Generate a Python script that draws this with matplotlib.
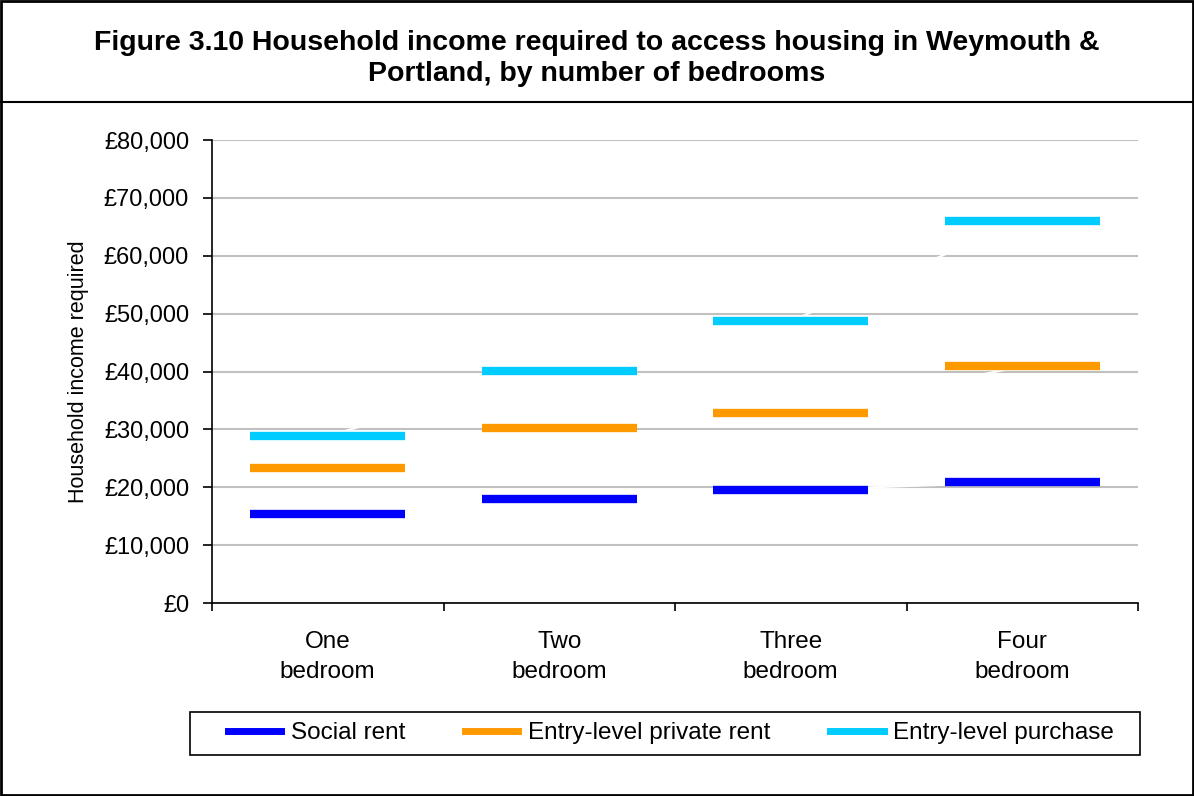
import matplotlib.pyplot as plt
from matplotlib.lines import Line2D
from matplotlib.patches import Rectangle
import numpy as np

plt.rcParams['font.family'] = ['Liberation Sans', 'DejaVu Sans']

categories = ["One\nbedroom", "Two\nbedroom", "Three\nbedroom", "Four\nbedroom"]
social_rent = [15400, 17900, 19500, 20900]
private_rent = [23300, 30200, 32800, 40900]
purchase = [28900, 40100, 48700, 66000]

series = [
    ("Social rent", social_rent, "#0000ff"),
    ("Entry-level private rent", private_rent, "#ff9900"),
    ("Entry-level purchase", purchase, "#00ccff"),
]

W, H = 1194, 796
fig = plt.figure(figsize=(W / 100, H / 100), dpi=100)
ax = fig.add_axes([212 / W, 1 - 603 / H, (1138 - 212) / W, (603 - 140) / H])

x = np.arange(len(categories))
half = 0.335
handles = []
for name, vals, col in series:
    # faint white connecting line, as in the original line chart
    ax.plot(x, vals, color="white", lw=1.5, zorder=2)
    ax.hlines(vals, x - half, x + half, colors=col, lw=6, zorder=3)
    handles.append(Line2D([0], [0], color=col, lw=5))

ax.set_xlim(-0.5, 3.5)
ax.set_ylim(0, 80000)
ax.set_yticks(np.arange(0, 80001, 10000))
ax.set_yticklabels([f"£{v:,}" for v in range(0, 80001, 10000)], fontsize=17)
ax.yaxis.grid(True, color="#c0c0c0", lw=1.5, zorder=1)
ax.set_axisbelow(True)

ax.set_xticks(np.arange(-0.5, 3.6, 1))
ax.set_xticklabels([])
ax.set_xticks(x, minor=True)
ax.set_xticklabels(categories, minor=True, fontsize=17.5, linespacing=1.5)
ax.tick_params(axis="x", which="minor", length=0, pad=20)
ax.tick_params(axis="x", which="major", direction="out", length=6, width=1.2)
ax.tick_params(axis="y", direction="out", length=6.5, width=1.2, pad=10)

for s in ["top", "right"]:
    ax.spines[s].set_visible(False)
for s in ["left", "bottom"]:
    ax.spines[s].set_linewidth(1.2)

ax.set_ylabel("Household income required", fontsize=15.5, labelpad=11)

leg = fig.legend(handles, [s[0] for s in series], ncol=3, loc="center",
                 bbox_to_anchor=(671 / W, 1 - 733 / H), fontsize=17.5,
                 frameon=False, handlelength=2.2, handletextpad=0.4,
                 columnspacing=2.45)
fig.add_artist(Rectangle((190 / W, 1 - 755 / H), (1140 - 190) / W, 43 / H,
                         transform=fig.transFigure, fill=False,
                         edgecolor="black", lw=1.2))

fig.text(0.5, 1 - 43 / H, "Figure 3.10 Household income required to access housing in Weymouth &",
         ha="center", va="center", fontsize=20.5, fontweight="bold")
fig.text(0.5, 1 - 74 / H, "Portland, by number of bedrooms",
         ha="center", va="center", fontsize=20.5, fontweight="bold")

fig.add_artist(Rectangle((0.001, 0.001), 0.998, 0.998, transform=fig.transFigure,
                         fill=False, edgecolor="black", lw=2))
fig.add_artist(Line2D([0, 1], [1 - 102 / H, 1 - 102 / H], transform=fig.transFigure,
                      color="black", lw=1.5))

fig.savefig("out.png", dpi=100)
